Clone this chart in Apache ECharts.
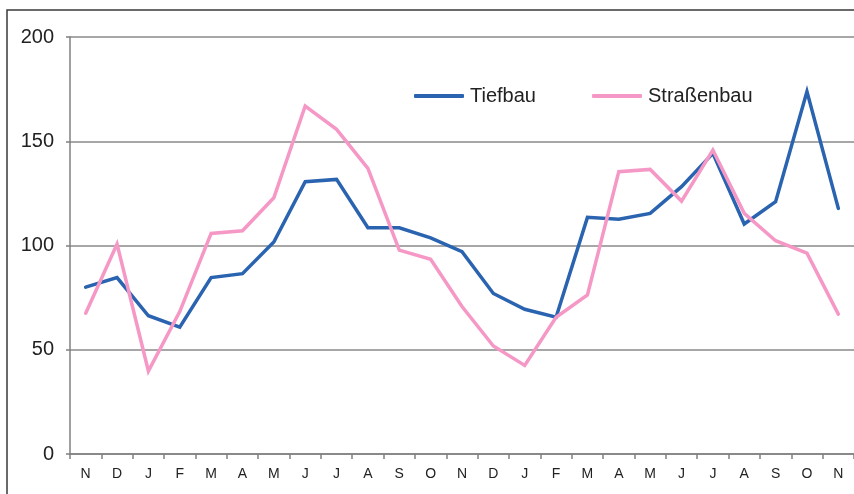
<!DOCTYPE html>
<html><head><meta charset="utf-8">
<script src="https://cdn.jsdelivr.net/npm/echarts@6/dist/echarts.min.js"></script>
<style>html,body{margin:0;padding:0;background:#fff}#c{width:854px;height:494px}</style>
</head><body><div id="c"></div>
<script>
const categories = ['N','D','J','F','M','A','M','J','J','A','S','O','N','D','J','F','M','A','M','J','J','A','S','O','N'];
const tiefbau = [80,84.6,66.3,60.8,84.6,86.5,101.7,130.6,131.7,108.5,108.5,103.7,97,77,69.4,65.6,113.5,112.6,115.4,128.2,144.2,110.3,121,173.8,117.8];
const strassenbau = [67.5,100.7,39.8,68.3,105.8,107.1,122.9,166.9,155.7,137,97.8,93.4,70.7,51.8,42.5,65.6,76.3,135.4,136.5,121.3,145.8,115.4,102.3,96.3,67.1];
const yTicks = {min:0, max:200, interval:50};

const chart = echarts.init(document.getElementById('c'));
const font = 'Liberation Sans, Arial, sans-serif';
chart.setOption({
  animation:false,
  backgroundColor:'#fff',
  graphic:[{type:'rect', shape:{x:7,y:10,width:900,height:600}, style:{fill:'none', stroke:'#3a3a3a', lineWidth:1.5}, z:-1}],
  grid:{left:70, top:37, right:0, bottom:40, containLabel:false},
  legend:[
    {data:[{name:'Tiefbau'}], left:414, top:86, padding:0, itemWidth:50, itemHeight:4, icon:'roundRect',
     textStyle:{fontFamily:font, fontSize:20, color:'#222', padding:[0,0,0,1]}},
    {data:[{name:'Straßenbau'}], left:592, top:86, padding:0, itemWidth:50, itemHeight:4, icon:'roundRect',
     textStyle:{fontFamily:font, fontSize:20, color:'#222', padding:[0,0,0,1]}}
  ],
  xAxis:{type:'category', data:categories, boundaryGap:true,
    axisLine:{lineStyle:{color:'#808080', width:1.5}},
    axisTick:{show:true, length:5, inside:false, lineStyle:{color:'#808080', width:1.5}},
    axisLabel:{fontFamily:font, fontSize:14, color:'#222', margin:13, interval:0},
    splitLine:{show:false}},
  yAxis:{type:'value', min:yTicks.min, max:yTicks.max, interval:yTicks.interval,
    axisLine:{show:true, lineStyle:{color:'#808080', width:1.5}},
    axisTick:{show:true, length:4, lineStyle:{color:'#808080', width:1.5}},
    axisLabel:{fontFamily:font, fontSize:20, color:'#222', margin:16},
    splitLine:{show:true, lineStyle:{color:'#8a8a8a', width:1.5}}},
  series:[
    {name:'Tiefbau', type:'line', data:tiefbau, symbol:'none', color:'#2a64b0',
     lineStyle:{width:3.5, color:'#2a64b0', cap:'round', join:'miter'}},
    {name:'Straßenbau', type:'line', data:strassenbau, symbol:'none', color:'#f598c6',
     lineStyle:{width:3.5, color:'#f598c6', cap:'round', join:'miter'}}
  ]
});
</script></body></html>
